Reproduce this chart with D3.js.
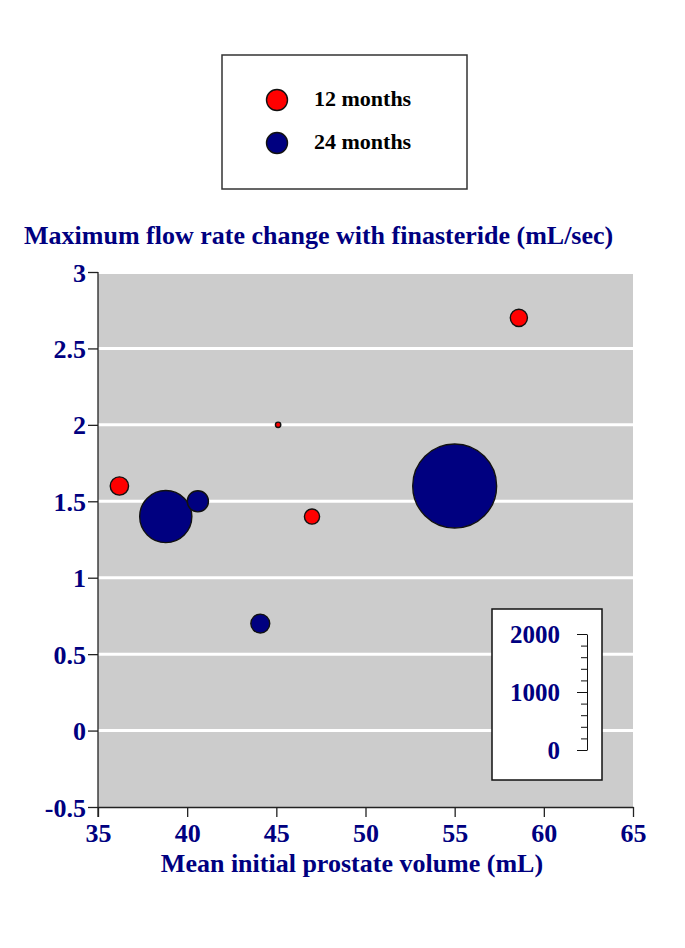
<!DOCTYPE html>
<html><head><meta charset="utf-8">
<script src="https://cdnjs.cloudflare.com/ajax/libs/d3/7.8.5/d3.min.js"></script>
<style>body{margin:0;background:#fff}svg{display:block}</style>
</head><body>
<script>
const seriesNames = ["12 months", "24 months"];
const seriesColors = ["#ff0000", "#000080"];
const volume12 = [36.2, 45.1, 47.0, 58.6];
const flow12   = [1.6, 2.0, 1.4, 2.7];
const size12   = [105, 9, 72, 92];
const volume24 = [38.8, 40.6, 44.1, 55.0];
const flow24   = [1.4, 1.5, 0.7, 1.6];
const size24   = [850, 140, 112, 2200];
const xTicks = [35, 40, 45, 50, 55, 60, 65];
const yTicks = [-0.5, 0, 0.5, 1, 1.5, 2, 2.5, 3];
const sizeTicks = [0, 1000, 2000];

const W = 685, H = 948;
const svg = d3.select("body").append("svg").attr("width", W).attr("height", H);
const font = "'Liberation Serif','Times New Roman',serif";
const navy = "#000080";

const x = d3.scaleLinear().domain([35, 65]).range([98, 633]);
const y = d3.scaleLinear().domain([-0.5, 3]).range([807, 272]);
const r = d3.scaleSqrt().domain([0, 2000]).range([0, 40]);

// plot background
svg.append("rect").attr("x", x(35)).attr("y", y(3) + 2).attr("width", x(65) - x(35))
  .attr("height", y(-0.5) - y(3) - 2).attr("fill", "#cccccc");
// gridlines
svg.append("g").selectAll("line").data(yTicks.filter(d => d > -0.5 && d < 3)).join("line")
  .attr("x1", x(35)).attr("x2", x(65)).attr("y1", d => y(d)).attr("y2", d => y(d))
  .attr("stroke", "#fff").attr("stroke-width", 3);

// axes
const yAxis = svg.append("g").attr("transform", `translate(${x(35)},0)`)
  .call(d3.axisLeft(y).tickValues(yTicks).tickSize(10).tickSizeOuter(0).tickFormat(d => String(d)));
const xAxis = svg.append("g").attr("transform", `translate(0,${y(-0.5)})`)
  .call(d3.axisBottom(x).tickValues(xTicks).tickSize(10).tickSizeOuter(0));
[yAxis, xAxis].forEach(a => {
  a.select(".domain").attr("stroke", "#222").attr("stroke-width", 1.3);
  a.selectAll(".tick line").attr("stroke", "#222").attr("stroke-width", 1.3);
  a.selectAll("text").attr("font-family", font).attr("font-weight", "bold")
    .attr("font-size", 26).attr("fill", navy);
});
yAxis.select(".domain").attr("d", `M0,${y(3)}V${y(-0.5) + 10}`);
yAxis.selectAll("text").attr("x", -12).attr("dy", "0.35em");
xAxis.selectAll("text").attr("y", 35).attr("dy", 0);

// bubbles
const pts = [];
volume12.forEach((v, i) => pts.push({x: v, y: flow12[i], s: size12[i], c: 0}));
volume24.forEach((v, i) => pts.push({x: v, y: flow24[i], s: size24[i], c: 1}));
svg.append("g").selectAll("circle").data(pts).join("circle")
  .attr("cx", d => x(d.x)).attr("cy", d => y(d.y)).attr("r", d => r(d.s))
  .attr("fill", d => seriesColors[d.c]).attr("stroke", "#111").attr("stroke-width", 1.4);

// titles
svg.append("text").attr("x", 24).attr("y", 244).attr("font-family", font).attr("font-weight", "bold")
  .attr("font-size", 26).attr("fill", navy).text("Maximum flow rate change with finasteride (mL/sec)");
svg.append("text").attr("x", 352).attr("y", 872).attr("text-anchor", "middle")
  .attr("font-family", font).attr("font-weight", "bold").attr("font-size", 26).attr("fill", navy)
  .text("Mean initial prostate volume (mL)");

// legend
const lg = svg.append("g");
lg.append("rect").attr("x", 222).attr("y", 55).attr("width", 245).attr("height", 134)
  .attr("fill", "#fff").attr("stroke", "#333").attr("stroke-width", 1.5);
seriesNames.forEach((n, i) => {
  lg.append("circle").attr("cx", 277).attr("cy", 100 + i * 43).attr("r", 10.5)
    .attr("fill", seriesColors[i]).attr("stroke", "#111").attr("stroke-width", 1.4);
  lg.append("text").attr("x", 314).attr("y", 106 + i * 43).attr("font-family", font)
    .attr("font-weight", "bold").attr("font-size", 22).attr("fill", "#000").text(n);
});

// size legend
const sg = svg.append("g");
sg.append("rect").attr("x", 492).attr("y", 609).attr("width", 110).attr("height", 171)
  .attr("fill", "#fff").attr("stroke", "#111").attr("stroke-width", 1.5);
const sy = d3.scaleLinear().domain([0, 2000]).range([750, 634]);
const sAxis = sg.append("g").attr("transform", "translate(587,0)")
  .call(d3.axisLeft(sy).ticks(8).tickSize(6).tickSizeOuter(0).tickFormat(""));
sAxis.select(".domain").attr("stroke", "#111");
sAxis.selectAll(".tick line").attr("stroke", "#111")
  .attr("x2", d => sizeTicks.includes(d) ? -10 : -6);
sg.selectAll("text.sl").data(sizeTicks).join("text").attr("class", "sl")
  .attr("x", 560).attr("y", d => sy(d)).attr("dy", "0.36em").attr("text-anchor", "end")
  .attr("font-family", font).attr("font-weight", "bold").attr("font-size", 25).attr("fill", navy)
  .text(d => d);
</script>
</body></html>
